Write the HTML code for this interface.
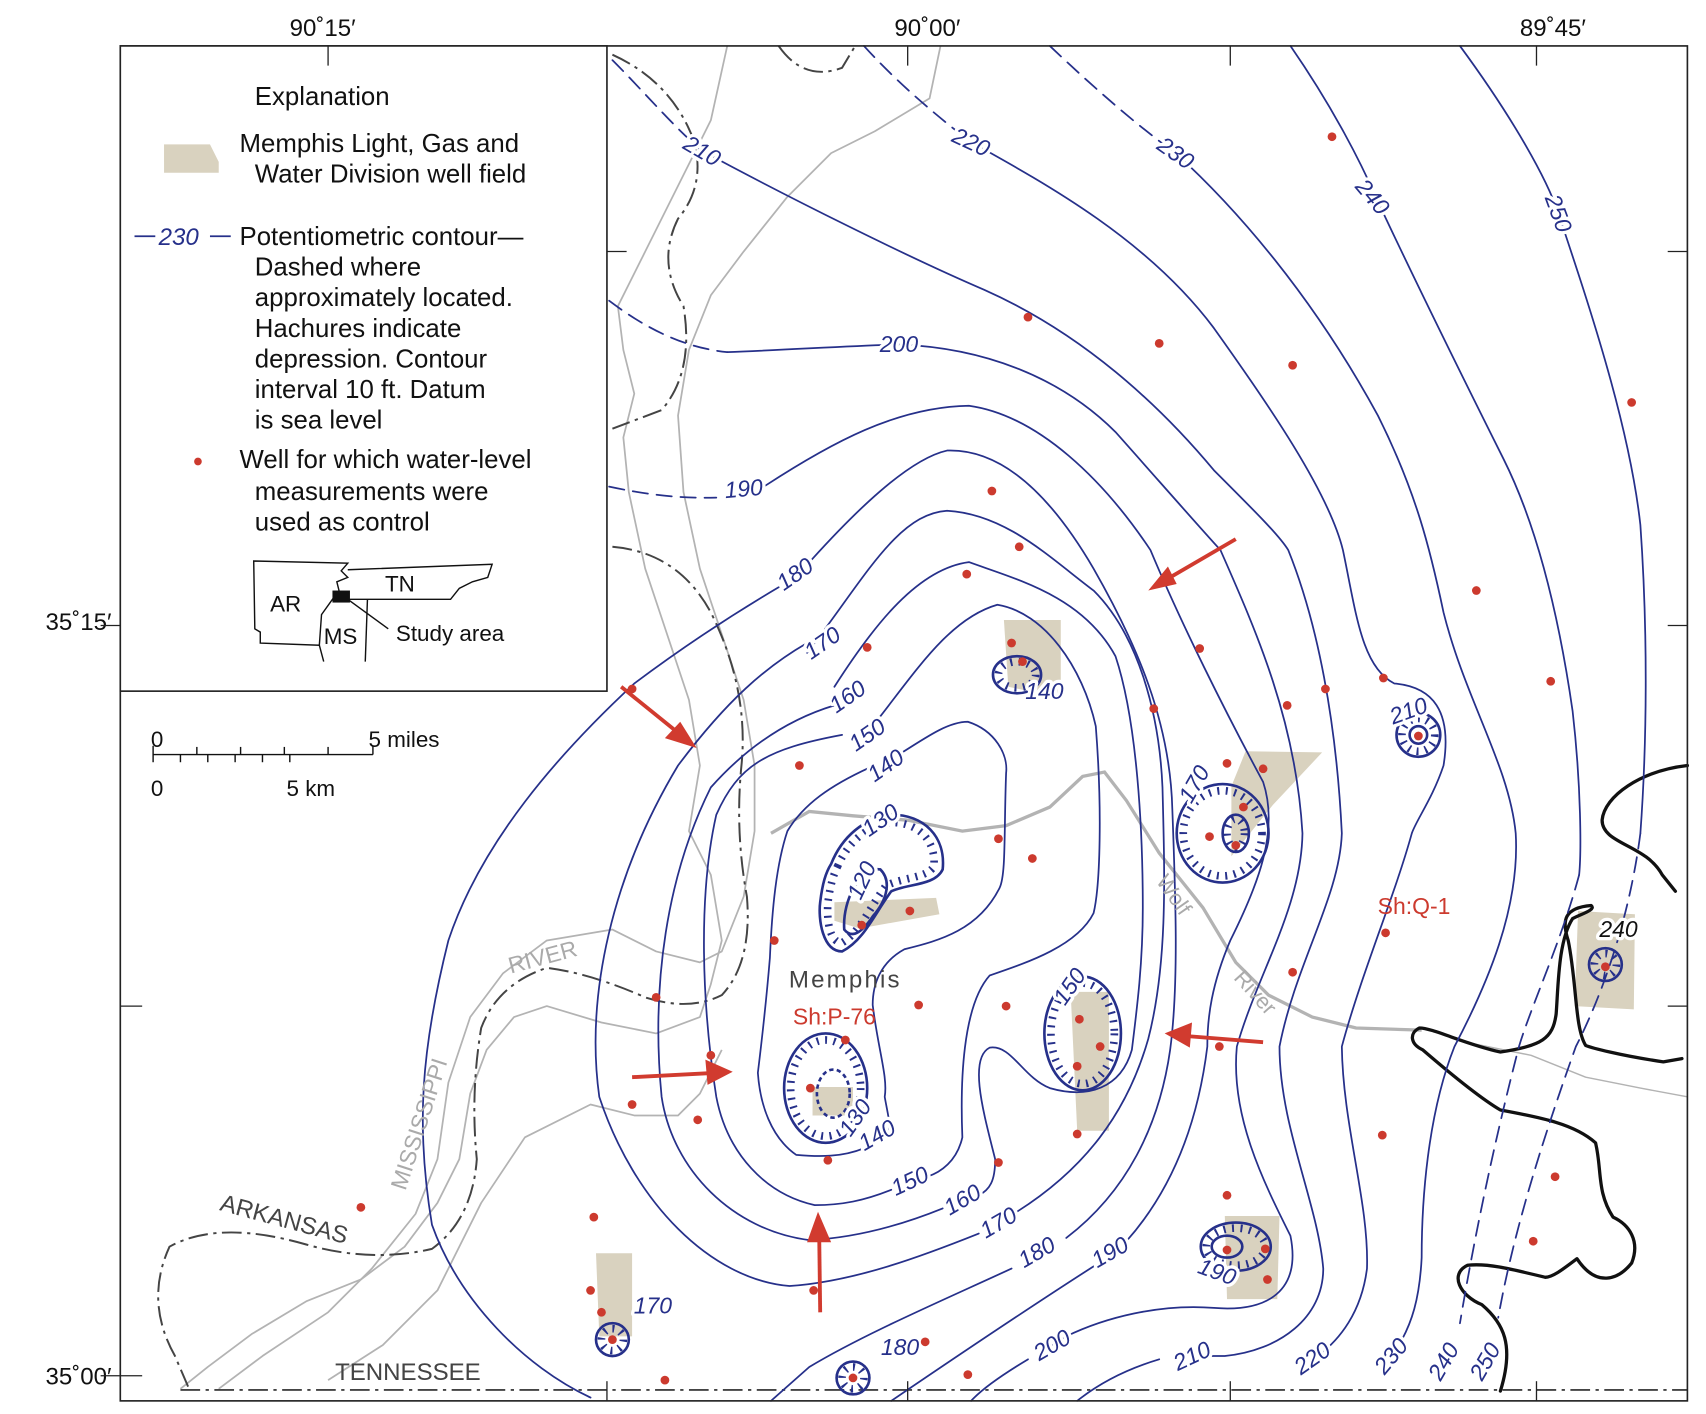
<!DOCTYPE html>
<html><head><meta charset="utf-8"><style>
html,body{margin:0;padding:0;background:#fff}
svg{display:block}
text{font-family:"Liberation Sans",sans-serif}
.c{fill:none;stroke:#26308a;stroke-width:1.6;stroke-linejoin:round;stroke-linecap:round}
.d{stroke-dasharray:14 8}
.h{fill:none;stroke:#26308a;stroke-width:7;stroke-dasharray:1.8 6}
.hc{fill:none;stroke:#26308a;stroke-width:2.4}
.lb{fill:#26308a;font-size:21px;font-style:italic;paint-order:stroke;stroke:#fff;stroke-width:6px;stroke-linejoin:round}
.g{fill:none;stroke:#b3b3b3;stroke-width:1.6;stroke-linejoin:round}
.s{fill:none;stroke:#444;stroke-width:1.8;stroke-dasharray:18 5 3 5}
.k{fill:none;stroke:#111;stroke-width:3;stroke-linejoin:round;stroke-linecap:round}
.w{fill:#d9d2bf}
.lg{font-size:23.6px;fill:#111}
.r{fill:#cc3a2e}
</style></head><body>
<svg width="1706" height="1414" viewBox="0 0 1560 1293" xmlns="http://www.w3.org/2000/svg">
<rect width="1560" height="1293" fill="#fff"/>
<g font-size="22" fill="#111">
<text x="295" y="33" text-anchor="middle">90˚15′</text>
<text x="848" y="33" text-anchor="middle">90˚00′</text>
<text x="1420" y="33" text-anchor="middle">89˚45′</text>
<text x="102" y="576" text-anchor="end">35˚15′</text>
<text x="102" y="1266" text-anchor="end">35˚00′</text>
</g>
<g class="w">
<polygon points="918,567 970,567 970,638 922,628"/>
<polygon points="1139,687 1209,688 1164,736 1126,783 1126,719"/>
<polygon points="763,825 856,821 859,836 786,849 763,842"/>
<polygon points="743,994 780,994 780,1020 743,1020"/>
<polygon points="979,907 1014,907 1014,1034 985,1034"/>
<polygon points="1443,833 1495,836 1494,923 1440,920"/>
<polygon points="545,1146 578,1146 578,1222 548,1222"/>
<polygon points="1120,1112 1170,1112 1168,1188 1122,1188"/>
</g>
<g class="g">
<path d="M665,42 L650,110 L620,170 L590,230 L565,280 L570,320 L580,360 L570,400 L575,450 L590,520 L610,580 L630,640 L640,700 L630,760 L650,800 L660,860 L650,900 L640,930 L600,945 L550,935 L500,920 L470,930 L445,960 L430,1000 L420,1060 L400,1100 L370,1140 L330,1170 L280,1190 L230,1220 L190,1250 L165,1270"/>
<path d="M860,42 L850,90 L800,120 L760,140 L720,180 L680,230 L650,270 L630,320 L620,380 L625,450 L640,520 L660,580 L680,640 L690,700 L690,760 L680,820 L660,870 L640,880 L600,870 L560,850 L500,860 L460,890 L430,930 L410,990 L400,1060 L380,1110 L340,1160 L300,1200 L240,1240 L200,1270"/>
<path d="M660,960 L640,1000 L620,1020 L580,1020 L540,1010 L480,1040 L440,1100 L400,1180 L350,1230 L300,1262"/>
<path d="M1300,940 L1350,955 L1400,965 L1450,985 L1500,995 L1543,1003" stroke-width="1.3"/>
</g>
<path d="M705,762 L740,742 L780,746 L830,750 L880,760 L920,755 L960,738 L990,710 L1010,706 L1030,732 L1060,780 L1100,830 L1130,880 L1160,910 L1200,930 L1240,940 L1300,942" fill="none" stroke="#b3b3b3" stroke-width="3"/>
<g class="s">
<path d="M560,50 Q615,75 635,130 Q645,170 620,200 Q600,240 625,280 Q635,340 605,375 L560,392"/>
<path d="M712,42 Q735,75 770,62 L782,42"/>
<path d="M560,500 Q620,505 650,560 Q685,630 678,700 Q672,760 683,820 Q688,880 660,910 Q630,925 590,912 Q540,890 500,885 Q455,900 440,940 Q430,1000 436,1060 Q432,1115 395,1142 Q340,1155 280,1138 Q200,1115 155,1140 Q132,1190 160,1240 L172,1268"/>
<path d="M165,1271 L1543,1271"/>
</g>
<g class="k">
<path d="M1543,700 C1500,705 1467,728 1465,750 C1465,772 1505,772 1520,800 L1532,815"/>
<path d="M1538,968 L1521,971 C1480,965 1455,958 1450,956 C1440,940 1442,900 1434,860 C1428,842 1430,830 1455,828 C1460,832 1445,836 1438,840 C1425,860 1425,900 1423,927 C1420,950 1410,956 1372,962 C1340,955 1310,940 1298,940 C1288,945 1290,955 1301,960 C1330,985 1355,1005 1372,1015 C1410,1022 1440,1028 1459,1045 C1465,1070 1460,1090 1475,1113 C1490,1120 1500,1135 1492,1155 C1480,1170 1460,1178 1442,1151 C1430,1160 1420,1168 1413,1168 C1380,1160 1360,1155 1342,1157 C1325,1165 1335,1185 1355,1193 C1375,1210 1385,1230 1372,1272"/>
</g>
<g class="c">
<path d="M1335,42 C1385,110 1415,165 1425,195 C1455,285 1490,390 1500,480 C1507,580 1506,680 1500,762"/>
<path class="d" d="M1500,762 C1490,840 1465,910 1441,957 C1415,1030 1385,1120 1370,1205"/>
<path d="M1180,42 C1220,100 1245,150 1258,180 C1300,270 1345,360 1375,420 C1405,480 1425,560 1438,650 C1446,720 1446,780 1444,800"/>
<path class="d" d="M1444,800 C1428,860 1400,920 1389,957 C1370,1030 1350,1120 1335,1210"/>
<path class="d" d="M960,42 C1000,80 1040,115 1075,140"/>
<path d="M1075,140 C1130,190 1200,270 1260,380 C1295,450 1308,503 1320,560 C1340,640 1380,700 1386,762 C1390,830 1360,900 1330,957 C1305,1020 1300,1100 1300,1150 C1298,1190 1290,1210 1282,1225"/>
<path class="d" d="M790,42 C820,75 855,105 888,130"/>
<path d="M888,130 C960,170 1050,220 1110,300 C1160,370 1215,450 1228,503 C1240,560 1245,610 1275,625 C1310,628 1328,650 1320,700 C1310,730 1295,750 1291,762 C1275,820 1245,890 1227,957 C1228,1030 1252,1100 1250,1160 C1245,1200 1225,1225 1205,1240"/>
<path class="d" d="M560,55 C590,85 615,115 642,138"/>
<path d="M642,138 C720,180 830,235 900,265 C990,305 1060,370 1110,430 C1150,470 1170,490 1178,503 C1205,570 1222,660 1227,762 C1225,820 1185,880 1170,957 C1170,1030 1205,1100 1210,1160 C1210,1205 1170,1235 1120,1240 L1090,1240"/>
<path d="M1060,1243 C1030,1252 1005,1265 985,1281"/>
<path class="d" d="M557,275 C590,300 625,318 665,322"/>
<path d="M665,322 C720,320 780,316 822,315 C900,318 970,345 1020,395 C1060,440 1095,480 1116,503 C1150,580 1185,660 1191,762 C1190,830 1150,890 1131,957 C1125,1020 1155,1080 1180,1130 C1190,1180 1160,1200 1110,1196 C1060,1192 1010,1205 975,1222 L962,1230"/>
<path d="M940,1243 C915,1258 898,1270 888,1281"/>
<path class="d" d="M557,445 C590,452 620,456 655,455"/>
<path d="M700,444 C760,405 820,372 886,371 C950,380 1010,440 1052,503 C1080,570 1120,650 1155,715 C1170,760 1150,810 1125,860 C1108,900 1104,930 1104,957 C1095,1030 1070,1090 1030,1135"/>
<path d="M1000,1158 C950,1190 890,1230 815,1281"/>
<path d="M540,1278 C480,1250 420,1190 395,1120 C380,1030 385,960 410,860 C440,770 510,690 580,625 C640,580 690,550 712,537"/>
<path d="M742,512 C780,470 830,420 866,412 C920,410 965,460 1000,520 C1040,590 1070,660 1072,740 C1075,820 1078,900 1070,960 C1060,1030 1030,1090 975,1132"/>
<path d="M925,1160 C860,1190 790,1220 740,1250 L705,1281"/>
<path d="M738,597 C790,530 820,470 866,467 C920,470 960,510 1000,540 C1040,580 1060,650 1063,720 C1065,800 1068,880 1050,950 C1030,1020 990,1070 930,1108 M895,1128 C840,1150 780,1172 722,1176 C650,1170 580,1100 548,1003 C535,910 560,800 620,700 C665,640 700,610 738,588"/>
<path d="M763,628 C800,570 840,520 886,514 C930,530 990,545 1020,600 C1040,660 1045,760 1045,830 C1045,880 1040,920 1035,960 C1025,995 995,1005 960,995 C935,985 925,955 905,958 C885,968 900,1020 910,1060 C910,1080 905,1088 895,1093 M862,1105 C820,1122 780,1132 740,1134 C670,1125 615,1070 605,1003 C595,900 610,800 650,720 C690,675 730,655 763,645"/>
<path d="M805,655 C840,610 870,565 912,553 C955,560 990,610 1002,664 C1008,740 1006,810 1000,835 C985,865 940,880 905,892 C880,920 878,990 880,1040 C875,1062 860,1072 848,1076 M815,1088 C790,1098 770,1102 745,1102 C700,1092 665,1055 655,1003 C642,920 638,820 655,745 C675,700 700,685 770,672"/>
<path d="M822,690 C850,672 868,660 885,660 C910,668 922,690 920,707 C918,760 920,800 914,812 C895,850 860,860 827,868 C805,880 798,900 798,919 C803,960 812,985 809,1003 C812,1020 815,1030 812,1035 M790,1050 C770,1058 750,1058 728,1056 C705,1040 695,1010 693,981 C698,940 702,900 704,876 C706,830 710,790 720,760 C735,735 760,718 795,702"/>
</g>
<g>
<path class="hc" d="M760,790 C770,765 790,748 815,745 C845,745 865,765 862,795 C855,810 830,808 815,815 C800,835 790,860 770,870 C752,870 748,840 750,825 C752,808 755,798 760,790 Z"/>
<path class="h" d="M766,792 C775,771 792,755 815,752 C840,752 856,769 854,792 C848,803 826,802 810,810 C795,830 786,853 770,862 C758,862 756,840 757,826 C759,810 762,800 766,792 Z"/>
<path class="hc" d="M772,850 C770,822 788,792 805,795 C815,805 812,822 798,838 C790,850 780,860 772,850 Z" stroke-width="1.8"/>
<ellipse class="hc" cx="755" cy="995" rx="38" ry="50"/>
<ellipse class="h" cx="755" cy="995" rx="32" ry="44"/>
<ellipse class="hc" cx="762" cy="1000" rx="15" ry="22" stroke-width="1.4" stroke-dasharray="4 3"/>
<ellipse class="hc" cx="990" cy="945" rx="35" ry="52"/>
<ellipse class="h" cx="990" cy="945" rx="29" ry="46"/>
<ellipse class="hc" cx="930" cy="617" rx="22" ry="17"/>
<ellipse class="h" cx="930" cy="617" rx="17" ry="12"/>
<ellipse class="hc" cx="1118" cy="762" rx="42" ry="45"/>
<ellipse class="h" cx="1118" cy="762" rx="36" ry="39"/>
<ellipse class="hc" cx="1130" cy="762" rx="12" ry="17" stroke-width="1.8"/>
<ellipse class="h" cx="1130" cy="762" rx="8" ry="13" stroke-width="4"/>
<circle class="hc" cx="1297" cy="672" r="20"/>
<circle class="h" cx="1297" cy="672" r="15"/>
<circle class="hc" cx="1297" cy="672" r="8" stroke-width="1.8"/>
<circle class="hc" cx="1468" cy="882" r="15"/>
<circle class="h" cx="1468" cy="882" r="10" stroke-width="6"/>
<ellipse class="hc" cx="1130" cy="1140" rx="32" ry="22"/>
<ellipse class="h" cx="1130" cy="1140" rx="27" ry="17" stroke-width="6"/>
<ellipse class="hc" cx="1122" cy="1140" rx="14" ry="10" stroke-width="1.8"/>
<circle class="hc" cx="560" cy="1225" r="15"/>
<circle class="h" cx="560" cy="1225" r="10" stroke-width="6"/>
<circle class="hc" cx="780" cy="1260" r="15"/>
<circle class="h" cx="780" cy="1260" r="10" stroke-width="6"/>
</g>
<g class="lb">
<text transform="translate(1425,195) rotate(70)" text-anchor="middle" dy="7">250</text>
<text transform="translate(1255,180) rotate(50)" text-anchor="middle" dy="7">240</text>
<text transform="translate(1075,140) rotate(35)" text-anchor="middle" dy="7">230</text>
<text transform="translate(888,130) rotate(25)" text-anchor="middle" dy="7">220</text>
<text transform="translate(642,138) rotate(30)" text-anchor="middle" dy="7">210</text>
<text transform="translate(822,315)" text-anchor="middle" dy="7">200</text>
<text transform="translate(680,447) rotate(-5)" text-anchor="middle" dy="7">190</text>
<text transform="translate(727,525) rotate(-35)" text-anchor="middle" dy="7">180</text>
<text transform="translate(752,588) rotate(-35)" text-anchor="middle" dy="7">170</text>
<text transform="translate(775,637) rotate(-35)" text-anchor="middle" dy="7">160</text>
<text transform="translate(793,672) rotate(-35)" text-anchor="middle" dy="7">150</text>
<text transform="translate(810,700) rotate(-35)" text-anchor="middle" dy="7">140</text>
<text transform="translate(805,750) rotate(-35)" text-anchor="middle" dy="7">130</text>
<text transform="translate(788,805) rotate(-65)" text-anchor="middle" dy="7">120</text>
<text transform="translate(955,632)" text-anchor="middle" dy="7">140</text>
<text transform="translate(978,902) rotate(-55)" text-anchor="middle" dy="7">150</text>
<text transform="translate(1092,717) rotate(-60)" text-anchor="middle" dy="7">170</text>
<text transform="translate(1288,650) rotate(-20)" text-anchor="middle" dy="7">210</text>
<text transform="translate(782,1022) rotate(-55)" text-anchor="middle" dy="7">130</text>
<text transform="translate(802,1038) rotate(-30)" text-anchor="middle" dy="7">140</text>
<text transform="translate(832,1080) rotate(-25)" text-anchor="middle" dy="7">150</text>
<text transform="translate(880,1097) rotate(-30)" text-anchor="middle" dy="7">160</text>
<text transform="translate(913,1118) rotate(-30)" text-anchor="middle" dy="7">170</text>
<text transform="translate(948,1145) rotate(-30)" text-anchor="middle" dy="7">180</text>
<text transform="translate(1015,1145) rotate(-30)" text-anchor="middle" dy="7">190</text>
<text transform="translate(962,1230) rotate(-30)" text-anchor="middle" dy="7">200</text>
<text transform="translate(1090,1240) rotate(-25)" text-anchor="middle" dy="7">210</text>
<text transform="translate(1200,1242) rotate(-35)" text-anchor="middle" dy="7">220</text>
<text transform="translate(1272,1240) rotate(-50)" text-anchor="middle" dy="7">230</text>
<text transform="translate(1320,1245) rotate(-60)" text-anchor="middle" dy="7">240</text>
<text transform="translate(1358,1245) rotate(-60)" text-anchor="middle" dy="7">250</text>
<text transform="translate(1113,1163) rotate(20)" text-anchor="middle" dy="7">190</text>
<text transform="translate(597,1194)" text-anchor="middle" dy="7">170</text>
<text transform="translate(823,1232)" text-anchor="middle" dy="7">180</text>
<text transform="translate(1480,850)" text-anchor="middle" dy="7" style="fill:#111">240</text>
</g>
<g class="r">
<circle cx="578" cy="630" r="4"/><circle cx="940" cy="290" r="4"/><circle cx="1060" cy="314" r="4"/><circle cx="1182" cy="334" r="4"/><circle cx="1218" cy="125" r="4"/><circle cx="1492" cy="368" r="4"/><circle cx="907" cy="449" r="4"/><circle cx="932" cy="500" r="4"/><circle cx="884" cy="525" r="4"/><circle cx="1350" cy="540" r="4"/><circle cx="1418" cy="623" r="4"/><circle cx="1265" cy="620" r="4"/><circle cx="1212" cy="630" r="4"/><circle cx="1177" cy="645" r="4"/><circle cx="1097" cy="593" r="4"/><circle cx="1055" cy="648" r="4"/><circle cx="925" cy="588" r="4"/><circle cx="935" cy="605" r="4"/><circle cx="793" cy="592" r="4"/><circle cx="731" cy="700" r="4"/><circle cx="1122" cy="698" r="4"/><circle cx="1155" cy="703" r="4"/><circle cx="1137" cy="738" r="4"/><circle cx="1106" cy="765" r="4"/><circle cx="1130" cy="773" r="4"/><circle cx="913" cy="767" r="4"/><circle cx="944" cy="785" r="4"/><circle cx="832" cy="833" r="4"/><circle cx="788" cy="846" r="4"/><circle cx="708" cy="860" r="4"/><circle cx="600" cy="912" r="4"/><circle cx="840" cy="919" r="4"/><circle cx="920" cy="920" r="4"/><circle cx="987" cy="932" r="4"/><circle cx="1006" cy="957" r="4"/><circle cx="985" cy="975" r="4"/><circle cx="1267" cy="853" r="4"/><circle cx="1182" cy="889" r="4"/><circle cx="1115" cy="957" r="4"/><circle cx="1264" cy="1038" r="4"/><circle cx="1422" cy="1076" r="4"/><circle cx="1402" cy="1135" r="4"/><circle cx="1468" cy="884" r="4"/><circle cx="1297" cy="673" r="4"/><circle cx="650" cy="965" r="4"/><circle cx="578" cy="1010" r="4"/><circle cx="638" cy="1024" r="4"/><circle cx="741" cy="995" r="4"/><circle cx="773" cy="951" r="4"/><circle cx="757" cy="1061" r="4"/><circle cx="913" cy="1063" r="4"/><circle cx="985" cy="1037" r="4"/><circle cx="1122" cy="1093" r="4"/><circle cx="1122" cy="1143" r="4"/><circle cx="1157" cy="1142" r="4"/><circle cx="1159" cy="1170" r="4"/><circle cx="543" cy="1113" r="4"/><circle cx="540" cy="1180" r="4"/><circle cx="550" cy="1200" r="4"/><circle cx="560" cy="1225" r="4"/><circle cx="608" cy="1262" r="4"/><circle cx="744" cy="1180" r="4"/><circle cx="846" cy="1227" r="4"/><circle cx="885" cy="1257" r="4"/><circle cx="780" cy="1260" r="4"/><circle cx="330" cy="1104" r="4"/>
</g>
<g stroke="#d13b2f" stroke-width="3.5" fill="#d13b2f">
<line x1="568" y1="628" x2="625" y2="674"/><polygon points="637,684 608,675 622,660" stroke="none"/>
<line x1="1130" y1="493" x2="1063" y2="532"/><polygon points="1050,540 1068,518 1076,534" stroke="none"/>
<line x1="578" y1="985" x2="655" y2="981"/><polygon points="670,980 645,969 647,992" stroke="none"/>
<line x1="750" y1="1200" x2="749" y2="1122"/><polygon points="748,1108 738,1136 760,1136" stroke="none"/>
<line x1="1155" y1="953" x2="1080" y2="947"/><polygon points="1065,945 1090,935 1088,958" stroke="none"/>
</g>
<text x="773" y="903" text-anchor="middle" font-size="22" fill="#444" letter-spacing="2">Memphis</text>
<text x="763" y="937" text-anchor="middle" font-size="21" fill="#cc3a2e">Sh:P-76</text>
<text x="1293" y="836" text-anchor="middle" font-size="21" fill="#cc3a2e">Sh:Q-1</text>
<text transform="translate(1068,822) rotate(55)" text-anchor="middle" font-size="20" fill="#aaa">Wolf</text>
<text transform="translate(1143,912) rotate(48)" text-anchor="middle" font-size="20" fill="#aaa">River</text>
<text transform="translate(498,882) rotate(-15)" text-anchor="middle" font-size="21" fill="#aaa">RIVER</text>
<text transform="translate(390,1030) rotate(-72)" text-anchor="middle" font-size="21" fill="#aaa">MISSISSIPPI</text>
<text transform="translate(258,1122) rotate(15)" text-anchor="middle" font-size="22" fill="#444">ARKANSAS</text>
<text x="373" y="1262" text-anchor="middle" font-size="22" fill="#444">TENNESSEE</text>
<rect x="110" y="42" width="1433" height="1239" fill="none" stroke="#222" stroke-width="1.5"/>
<g stroke="#222" stroke-width="1.2">
<line x1="830" y1="42" x2="830" y2="60"/><line x1="1125" y1="42" x2="1125" y2="60"/><line x1="1405" y1="42" x2="1405" y2="60"/>
<line x1="555" y1="1263" x2="555" y2="1281"/><line x1="830" y1="1263" x2="830" y2="1281"/><line x1="1125" y1="1263" x2="1125" y2="1281"/><line x1="1405" y1="1263" x2="1405" y2="1281"/>
<line x1="110" y1="920" x2="130" y2="920"/><line x1="110" y1="1258" x2="130" y2="1258"/>
<line x1="555" y1="230" x2="573" y2="230"/><line x1="1525" y1="230" x2="1543" y2="230"/><line x1="1525" y1="572" x2="1543" y2="572"/><line x1="1525" y1="920" x2="1543" y2="920"/>
<line x1="92" y1="572" x2="110" y2="572"/><line x1="92" y1="1258" x2="110" y2="1258"/>
</g>
<rect x="110" y="42" width="445" height="590" fill="#fff" stroke="#222" stroke-width="1.5"/>
<line x1="300" y1="42" x2="300" y2="60" stroke="#222" stroke-width="1.2"/>
<g class="lg">
<text x="233" y="96">Explanation</text>
<text x="219" y="139">Memphis Light, Gas and</text>
<text x="233" y="167">Water Division well field</text>
<text x="219" y="224">Potentiometric contour—</text>
<text x="233" y="252">Dashed where</text>
<text x="233" y="280">approximately located.</text>
<text x="233" y="308">Hachures indicate</text>
<text x="233" y="336">depression. Contour</text>
<text x="233" y="364">interval 10 ft. Datum</text>
<text x="233" y="392">is sea level</text>
<text x="219" y="428">Well for which water-level</text>
<text x="233" y="457">measurements were</text>
<text x="233" y="485">used as control</text>
</g>
<polygon class="w" points="150,132 192,132 200,148 200,158 150,158"/>
<line x1="123" y1="216" x2="142" y2="216" stroke="#26308a" stroke-width="1.6"/>
<text x="145" y="224" font-size="22" font-style="italic" fill="#26308a">230</text>
<line x1="192" y1="216" x2="211" y2="216" stroke="#26308a" stroke-width="1.6"/>
<circle cx="181" cy="422" r="3.5" fill="#cc3a2e"/>
<g fill="none" stroke="#111" stroke-width="1.3">
<path d="M232,513 L318,515 L312,522 L318,528 L308,532 L310,540 L304,548 L294,562 L292,590 L238,588 L238,578 L233,575 Z"/>
<path d="M318,521 L450,516 L446,528 L432,532 L420,538 L412,548 L306,548"/>
<path d="M336,548 L334,605"/><path d="M292,590 L296,605"/>
<path d="M318,548 L355,575"/>
</g>
<rect x="304" y="540" width="16" height="11" fill="#111"/>
<g font-size="20.5" fill="#111">
<text x="352" y="541">TN</text><text x="247" y="559">AR</text><text x="296" y="589">MS</text><text x="362" y="586">Study area</text>
</g>
<g stroke="#111" stroke-width="1.3">
<line x1="140" y1="690" x2="341" y2="690"/>
<line x1="140" y1="682" x2="140" y2="697"/><line x1="341" y1="682" x2="341" y2="690"/>
<line x1="180" y1="683" x2="180" y2="690"/><line x1="220" y1="683" x2="220" y2="690"/><line x1="260" y1="683" x2="260" y2="690"/><line x1="300" y1="683" x2="300" y2="690"/>
<line x1="165" y1="690" x2="165" y2="697"/><line x1="190" y1="690" x2="190" y2="697"/><line x1="215" y1="690" x2="215" y2="697"/><line x1="240" y1="690" x2="240" y2="697"/><line x1="265" y1="690" x2="265" y2="697"/>
</g>
<g font-size="20.5" fill="#111">
<text x="138" y="683">0</text><text x="337" y="683">5 miles</text>
<text x="138" y="728">0</text><text x="262" y="728">5 km</text>
</g>
</svg>
</body></html>
